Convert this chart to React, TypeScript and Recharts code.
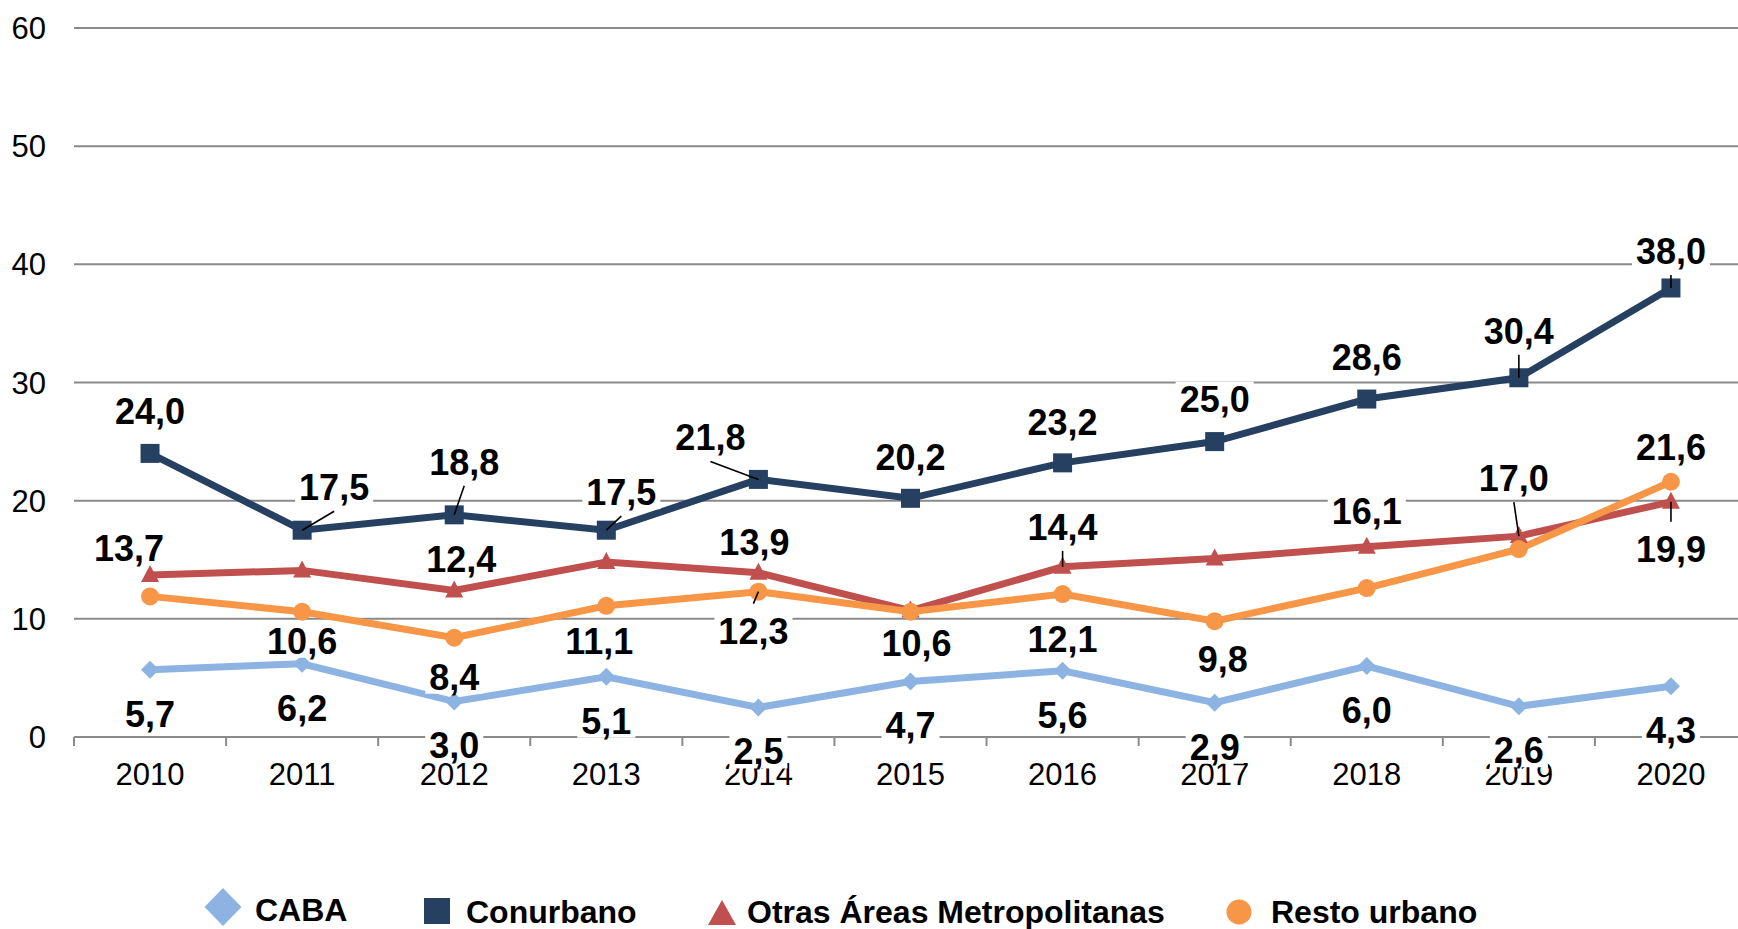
import React from "react";
import { CartesianGrid, LabelList, Line, LineChart, XAxis, YAxis } from "recharts";

const YEARS = ["2010", "2011", "2012", "2013", "2014", "2015", "2016", "2017", "2018", "2019", "2020"];
const CABA = [5.7, 6.2, 3.0, 5.1, 2.5, 4.7, 5.6, 2.9, 6.0, 2.6, 4.3];
const CONURBANO = [24.0, 17.5, 18.8, 17.5, 21.8, 20.2, 23.2, 25.0, 28.6, 30.4, 38.0];
const OTRAS = [13.7, 14.1, 12.4, 14.8, 13.9, 10.7, 14.4, 15.1, 16.1, 17.0, 19.9];
const RESTO = [11.9, 10.6, 8.4, 11.1, 12.3, 10.6, 12.1, 9.8, 12.6, 15.9, 21.6];
const Y_TICKS = [0, 10, 20, 30, 40, 50, 60];

const SERIES_NAMES = ["CABA", "Conurbano", "Otras Áreas Metropolitanas", "Resto urbano"];

const data = YEARS.map((year, i) => ({
  i,
  year,
  caba: CABA[i],
  conurbano: CONURBANO[i],
  otras: OTRAS[i],
  resto: RESTO[i],
}));

// tick positions: category centres get the year, half steps get the little tick marks
const X_TICKS = YEARS.flatMap((_, i) => [i - 0.5, i]).concat(YEARS.length - 0.5);

const FONT = "'Liberation Sans', Arial, sans-serif";
const GRID = "#8a8a8a";
const C_CABA = "#8DB3E2";
const C_CONUR = "#254061";
const C_OTRAS = "#C0504D";
const C_RESTO = "#F79646";
const LABEL_FONT = 36;

// label placement per point: [dx, dy, leader line], null = no label
type Place = [number, number, boolean?] | null;
const PLACE_CABA: Place[] = YEARS.map(() => [0, 44]);
const PLACE_CONUR: Place[] = [
  [0, -42], [32, -43, true], [10, -53, true], [15, -38, true], [-48, -42, true],
  [0, -41], [0, -41], [0, -42], [0, -42], [0, -47, true], [0, -37, true],
];
const PLACE_OTRAS: Place[] = [
  [-21, -27], null, [7, -31], null, [-4, -31], null,
  [0, -40, true], null, [0, -36], [-5, -58, true], [0, 47, true],
];
const PLACE_RESTO: Place[] = [
  null, [0, 29], [0, 39], [-7, 35], [-5, 39, true], [6, 31],
  [0, 45], [8, 38], null, null, [0, -35],
];

const textWidth = (s: string, size: number) =>
  s.split("").reduce((w, c) => w + (c === "," ? 0.278 : 0.556), 0) * size;

const makeLabel = (places: Place[]) => (props: any) => {
  const { index, value } = props;
  const px = props.x ?? props.viewBox?.x;
  const py = props.y ?? props.viewBox?.y;
  const pl = places[index];
  if (!pl || px == null || py == null) return null;
  const [dx, dy, leader] = pl;
  const cx = px + dx;
  const cy = py + dy;
  const text = Number(value).toFixed(1).replace(".", ",");
  const w = textWidth(text, LABEL_FONT);
  const edge = dy < 0 ? cy + 24 : cy - 27;
  return (
    <g key={`lbl-${index}`}>
      {leader && <line x1={cx} y1={edge} x2={px} y2={py} stroke="#000" strokeWidth={1.6} />}
      <rect x={cx - w / 2 - 4} y={cy - 18} width={w + 8} height={35} fill="#fff" />
      <text
        x={cx}
        y={cy + 0.358 * LABEL_FONT}
        textAnchor="middle"
        fontSize={LABEL_FONT}
        fontWeight="bold"
        fontFamily={FONT}
        fill="#000"
      >
        {text}
      </text>
    </g>
  );
};

const diamondDot = (p: any) => (
  <polygon
    key={`d-${p.index}`}
    points={`${p.cx},${p.cy - 9} ${p.cx + 9},${p.cy} ${p.cx},${p.cy + 9} ${p.cx - 9},${p.cy}`}
    fill={C_CABA}
  />
);
const squareDot = (p: any) => (
  <rect key={`s-${p.index}`} x={p.cx - 9.5} y={p.cy - 9.5} width={19} height={19} fill={C_CONUR} />
);
const triangleDot = (p: any) => (
  <polygon
    key={`t-${p.index}`}
    points={`${p.cx},${p.cy - 10} ${p.cx + 9},${p.cy + 7} ${p.cx - 9},${p.cy + 7}`}
    fill={C_OTRAS}
  />
);
const circleDot = (p: any) => <circle key={`c-${p.index}`} cx={p.cx} cy={p.cy} r={9} fill={C_RESTO} />;

const XTick = (props: any) => {
  const { x, y, payload } = props;
  const v = payload.value;
  if (Number.isInteger(v)) {
    return (
      <text x={x} y={y + 37} dy="0.355em" textAnchor="middle" fontSize={31} fontFamily={FONT} fill="#000">
        {YEARS[v]}
      </text>
    );
  }
  return <line x1={x} y1={y} x2={x} y2={y + 9} stroke={GRID} strokeWidth={2} />;
};

const LegendRow = () => (
  <svg width={1738} height={929} style={{ position: "absolute", left: 0, top: 0, pointerEvents: "none" }}>
    <g fontFamily={FONT} fontWeight="bold" fontSize={32} fill="#000">
      <polygon points="223,888 241.5,907 223,926 204.5,907" fill={C_CABA} />
      <text x={255} y={921}>{SERIES_NAMES[0]}</text>
      <rect x={424} y={898} width={26} height={26} fill={C_CONUR} />
      <text x={466} y={923}>{SERIES_NAMES[1]}</text>
      <polygon points="722,900 736,925 708,925" fill={C_OTRAS} />
      <text x={747} y={923}>{SERIES_NAMES[2]}</text>
      <circle cx={1239} cy={912} r={12.5} fill={C_RESTO} />
      <text x={1271} y={923}>{SERIES_NAMES[3]}</text>
    </g>
  </svg>
);

export default function App() {
  return (
    <div
      style={{
        position: "absolute",
        left: 0,
        top: 0,
        width: 1738,
        height: 929,
        overflow: "hidden",
        background: "#fff",
      }}
    >
      <LineChart width={1760} height={929} data={data} margin={{ top: 28, right: 13, left: 14, bottom: 0 }}>
        <CartesianGrid vertical={false} stroke={GRID} strokeWidth={2} />
        <XAxis
          dataKey="i"
          type="number"
          domain={[-0.5, 10.5]}
          ticks={X_TICKS}
          interval={0}
          tickLine={false}
          tickSize={0}
          tickMargin={0}
          height={192}
          axisLine={{ stroke: GRID, strokeWidth: 2 }}
          tick={XTick}
        />
        <YAxis
          domain={[0, 60]}
          ticks={Y_TICKS}
          axisLine={false}
          tickLine={false}
          tickSize={0}
          tickMargin={28}
          width={60}
          tick={{ fontSize: 31, fill: "#000", fontFamily: FONT }}
        />
        <Line dataKey="caba" stroke={C_CABA} strokeWidth={7} dot={diamondDot} activeDot={false} isAnimationActive={false}>
          <LabelList dataKey="caba" content={makeLabel(PLACE_CABA)} />
        </Line>
        <Line dataKey="conurbano" stroke={C_CONUR} strokeWidth={7} dot={squareDot} activeDot={false} isAnimationActive={false}>
          <LabelList dataKey="conurbano" content={makeLabel(PLACE_CONUR)} />
        </Line>
        <Line dataKey="otras" stroke={C_OTRAS} strokeWidth={7} dot={triangleDot} activeDot={false} isAnimationActive={false}>
          <LabelList dataKey="otras" content={makeLabel(PLACE_OTRAS)} />
        </Line>
        <Line dataKey="resto" stroke={C_RESTO} strokeWidth={7} dot={circleDot} activeDot={false} isAnimationActive={false}>
          <LabelList dataKey="resto" content={makeLabel(PLACE_RESTO)} />
        </Line>
      </LineChart>
      <LegendRow />
    </div>
  );
}
